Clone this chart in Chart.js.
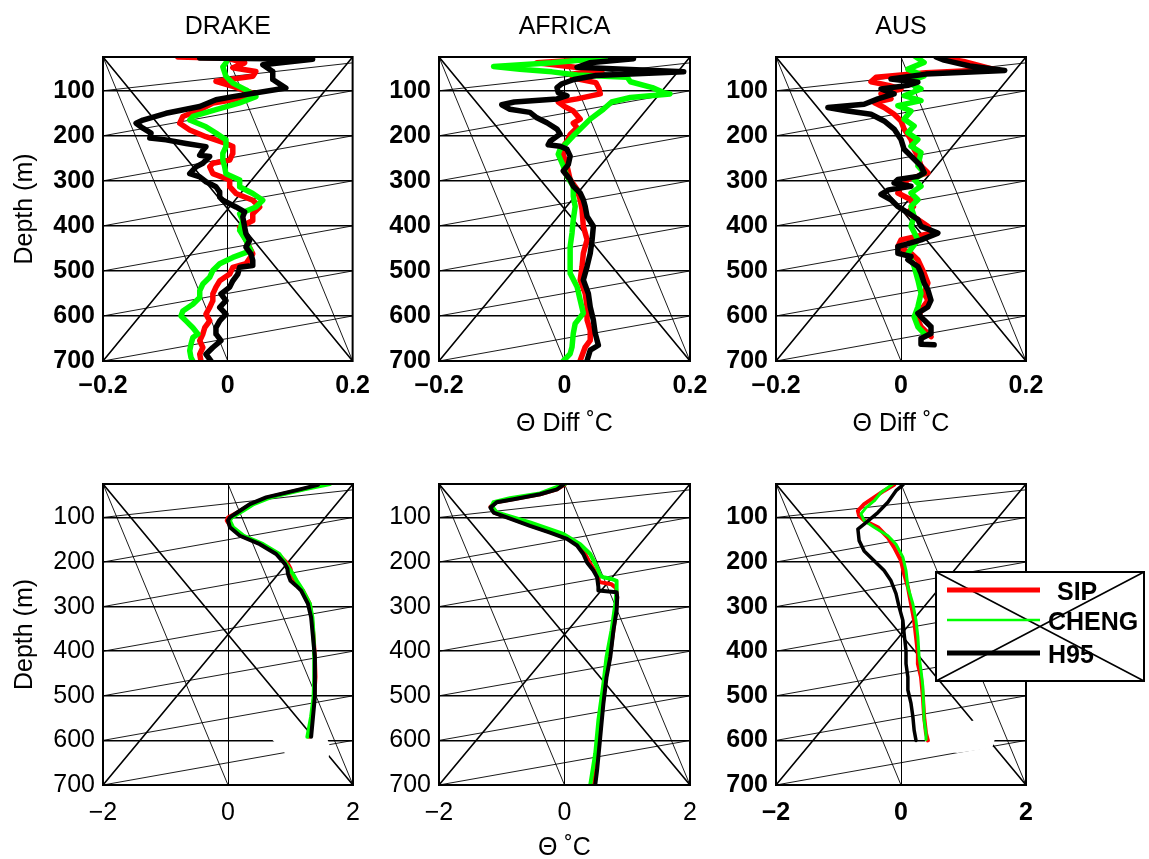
<!DOCTYPE html>
<html lang="en">
<head>
<meta charset="UTF-8">
<title>Theta profiles: DRAKE, AFRICA, AUS</title>
<script src="https://cdn.jsdelivr.net/npm/chart.js"></script>
<style>
  body { margin: 0; background: #fff; overflow: hidden; }
  #wrap { position: relative; width: 1149px; height: 859px; overflow: hidden; }
  #wrap canvas { position: absolute; }
</style>
</head>
<body>
<div id="wrap">
  <canvas id="drakeDiff"></canvas>
  <canvas id="africaDiff"></canvas>
  <canvas id="ausDiff"></canvas>
  <canvas id="drakeTheta"></canvas>
  <canvas id="africaTheta"></canvas>
  <canvas id="ausTheta"></canvas>
</div>
<script>
// ---- axes ----
const DEPTH_MIN = 25;
const DEPTH_MAX = 700;
const DEPTH_TICKS = [100, 200, 300, 400, 500, 600, 700];
const DIFF_TICKS = [-0.2, 0, 0.2];
const DIFF_TICK_LABELS = ['\u22120.2', '0', '0.2'];
const THETA_TICKS = [-2, 0, 2];
const THETA_TICK_LABELS = ['\u22122', '0', '2'];
const SERIES_NAMES = ['SIP', 'CHENG', 'H95'];
const SERIES_COLORS = ['#ff0000', '#00ff00', '#000000'];

// ---- profiles, [depth m, value] ----
// theta differences
const DRAKE_DIFF_SIP = [[25,-0.080],[28,0.000],[38,0.027],[49,0.008],[57,0.045],[68,0.040],[79,-0.019],[90,0.008],[105,0.040],[120,0.008],[127,-0.024],[142,-0.045],[157,-0.072],[172,-0.077],[187,-0.061],[202,-0.035],[217,-0.003],[224,0.008],[239,0.008],[254,0.003],[261,-0.024],[269,-0.029],[284,-0.024],[298,0.003],[313,0.003],[328,0.013],[343,0.040],[358,0.051],[373,0.040],[388,0.040],[403,0.019],[417,0.024],[440,0.032],[462,0.040],[484,0.029],[492,0.008],[507,0.003],[522,-0.013],[536,-0.019],[551,-0.024],[566,-0.024],[581,-0.029],[596,-0.035],[611,-0.029],[626,-0.037],[640,-0.040],[655,-0.045],[670,-0.040],[685,-0.045],[700,-0.043]];
const DRAKE_DIFF_CHENG = [[24,0.109],[27,0.000],[38,-0.003],[47,-0.008],[68,-0.003],[83,0.008],[98,0.029],[113,0.045],[127,0.019],[142,-0.019],[157,-0.056],[165,-0.061],[180,-0.035],[194,-0.019],[209,-0.003],[224,-0.003],[239,-0.008],[254,-0.008],[269,-0.005],[284,-0.003],[298,0.019],[313,0.019],[328,0.040],[343,0.056],[358,0.045],[373,0.019],[388,0.024],[410,0.019],[432,0.029],[455,0.037],[470,0.008],[484,-0.013],[499,-0.024],[514,-0.029],[529,-0.040],[544,-0.045],[559,-0.045],[574,-0.056],[589,-0.072],[600,-0.075],[611,-0.067],[626,-0.056],[640,-0.048],[648,-0.056],[663,-0.059],[677,-0.061],[692,-0.059],[700,-0.056]];
const DRAKE_DIFF_H95 = [[27,-0.045],[30,0.136],[42,0.056],[57,0.072],[75,0.072],[94,0.093],[113,0.008],[120,-0.019],[135,-0.045],[150,-0.099],[165,-0.136],[172,-0.147],[183,-0.136],[194,-0.123],[205,-0.125],[209,-0.099],[217,-0.067],[224,-0.035],[232,-0.040],[243,-0.045],[246,-0.029],[261,-0.040],[269,-0.051],[284,-0.061],[291,-0.045],[302,-0.035],[313,-0.019],[325,-0.013],[336,-0.013],[343,-0.008],[358,0.013],[369,0.027],[380,0.024],[403,0.027],[417,0.029],[432,0.035],[447,0.029],[462,0.037],[477,0.040],[488,0.040],[492,0.019],[507,0.016],[522,0.008],[536,0.003],[551,-0.011],[566,-0.003],[581,-0.013],[596,-0.003],[611,-0.013],[626,-0.019],[640,-0.019],[655,-0.011],[670,-0.024],[685,-0.035],[700,-0.027]];

const AFRICA_DIFF_SIP = [[25,0.073],[30,0.040],[38,-0.044],[45,0.000],[55,0.060],[63,0.010],[72,0.014],[82,0.050],[95,0.055],[107,0.057],[118,0.020],[125,-0.010],[135,0.000],[145,0.014],[163,0.025],[172,0.014],[182,0.020],[197,0.009],[212,0.004],[223,-0.002],[241,-0.002],[267,0.004],[297,0.009],[319,0.020],[342,0.025],[364,0.028],[401,0.030],[431,0.036],[461,0.030],[490,0.028],[520,0.025],[550,0.033],[580,0.036],[609,0.036],[632,0.041],[654,0.041],[669,0.033],[699,0.025]];
const AFRICA_DIFF_CHENG = [[24,0.067],[30,0.040],[38,-0.020],[46,-0.113],[52,-0.071],[58,-0.020],[65,0.020],[70,0.100],[80,0.105],[93,0.140],[104,0.158],[107,0.168],[115,0.105],[125,0.075],[141,0.062],[163,0.041],[185,0.025],[200,0.014],[215,0.004],[230,-0.007],[241,-0.010],[267,-0.002],[290,0.004],[312,0.014],[334,0.014],[357,0.017],[386,0.014],[416,0.012],[446,0.009],[475,0.009],[505,0.009],[535,0.020],[565,0.025],[594,0.030],[617,0.017],[639,0.014],[669,0.012],[684,0.009],[700,-0.002]];
const AFRICA_DIFF_H95 = [[25,0.073],[29,0.110],[38,0.040],[48,0.020],[58,0.190],[66,0.050],[75,0.015],[85,-0.005],[93,-0.012],[104,-0.010],[111,0.004],[118,-0.012],[125,-0.080],[131,-0.100],[141,-0.087],[148,-0.055],[160,-0.044],[171,-0.028],[185,-0.012],[196,-0.007],[212,-0.023],[220,-0.026],[223,-0.007],[230,0.004],[245,0.009],[264,0.006],[278,-0.002],[297,0.009],[312,0.014],[327,0.025],[342,0.030],[357,0.033],[379,0.036],[401,0.046],[431,0.044],[461,0.041],[490,0.036],[520,0.030],[550,0.038],[580,0.041],[609,0.046],[639,0.049],[665,0.054],[676,0.041],[699,0.036]];

const AUS_DIFF_SIP = [[25,0.059],[35,0.100],[53,0.150],[60,0.040],[70,-0.040],[80,-0.048],[88,-0.020],[96,0.000],[107,-0.032],[118,-0.016],[126,-0.043],[137,-0.027],[152,-0.011],[167,0.000],[185,0.005],[208,0.016],[230,0.021],[245,0.027],[267,0.032],[282,0.043],[297,0.011],[312,0.000],[327,-0.005],[342,0.016],[357,0.020],[371,0.011],[386,0.027],[401,0.043],[416,0.048],[431,0.000],[446,-0.005],[461,0.016],[475,0.027],[490,0.032],[505,0.037],[527,0.043],[550,0.037],[565,0.043],[587,0.032],[609,0.027],[624,0.032],[639,0.043],[646,0.048]];
const AUS_DIFF_CHENG = [[22,0.021],[37,0.037],[52,0.011],[67,0.037],[81,0.011],[96,0.032],[111,0.005],[122,0.032],[133,-0.005],[145,0.016],[163,0.005],[178,0.021],[193,0.011],[208,0.027],[223,0.016],[237,0.032],[267,0.027],[282,0.037],[297,0.021],[312,0.032],[327,0.016],[342,0.027],[357,0.016],[379,0.021],[401,0.016],[431,0.027],[461,0.011],[490,0.021],[520,0.027],[550,0.032],[580,0.027],[602,0.021],[624,0.027],[639,0.037]];
const AUS_DIFF_H95 = [[25,0.056],[32,0.069],[45,0.110],[55,0.166],[63,0.040],[74,-0.016],[81,0.027],[88,0.011],[96,-0.032],[107,-0.011],[118,-0.037],[130,-0.059],[137,-0.117],[145,-0.085],[152,-0.048],[167,-0.027],[185,-0.011],[208,0.000],[230,0.005],[245,0.016],[267,0.032],[282,0.037],[290,0.027],[297,-0.005],[305,-0.011],[312,0.016],[320,-0.020],[330,-0.032],[342,-0.016],[357,-0.005],[371,0.011],[386,0.027],[401,0.032],[416,0.059],[431,0.032],[446,-0.005],[461,-0.005],[468,0.016],[475,0.011],[490,0.027],[505,0.032],[527,0.037],[542,0.043],[565,0.048],[580,0.043],[594,0.027],[609,0.037],[624,0.048],[639,0.048],[650,0.032],[663,0.032],[664,0.053]];

// potential temperature
const DRAKE_THETA_SIP = [[27,1.49],[37,1.18],[55,0.64],[70,0.37],[85,0.20],[100,0.00],[107,-0.02],[122,0.05],[141,0.21],[160,0.53],[182,0.80],[204,0.96],[215,1.00],[227,1.02],[242,1.07],[253,1.13],[264,1.20],[294,1.31],[324,1.34],[368,1.37],[413,1.39],[458,1.40],[502,1.38],[547,1.34],[592,1.30]];
const DRAKE_THETA_CHENG = [[25,1.63],[37,1.22],[55,0.68],[70,0.41],[85,0.24],[100,0.06],[107,0.03],[122,0.08],[141,0.25],[160,0.56],[182,0.82],[204,0.93],[215,0.98],[227,1.04],[242,1.10],[253,1.15],[264,1.20],[294,1.31],[324,1.35],[368,1.37],[413,1.38],[458,1.38],[502,1.37],[547,1.33],[592,1.27]];
const DRAKE_THETA_H95 = [[27,1.44],[37,1.15],[55,0.61],[70,0.35],[85,0.19],[100,0.03],[107,0.00],[122,0.03],[141,0.19],[160,0.51],[182,0.77],[204,0.91],[215,0.95],[227,0.96],[242,1.00],[253,1.09],[264,1.17],[294,1.28],[324,1.33],[368,1.36],[413,1.39],[458,1.39],[502,1.39],[547,1.36],[592,1.33]];

const AFRICA_THETA_SIP = [[27,0.00],[37,-0.12],[48,-0.39],[59,-0.83],[66,-1.10],[76,-1.18],[89,-1.12],[100,-0.90],[119,-0.52],[134,-0.20],[148,0.07],[163,0.23],[182,0.33],[201,0.40],[219,0.48],[234,0.53],[245,0.56],[250,0.75],[258,0.82],[268,0.83],[279,0.84],[309,0.82],[353,0.78],[413,0.72],[458,0.66],[517,0.61],[592,0.55],[666,0.50],[700,0.47]];
const AFRICA_THETA_CHENG = [[25,0.01],[46,-0.39],[57,-0.87],[66,-1.13],[74,-1.16],[89,-1.08],[111,-0.55],[137,-0.02],[160,0.25],[182,0.41],[212,0.52],[230,0.57],[234,0.62],[238,0.75],[242,0.83],[264,0.83],[294,0.81],[353,0.75],[413,0.67],[473,0.62],[555,0.54],[629,0.49],[700,0.41]];
const AFRICA_THETA_H95 = [[27,-0.02],[37,-0.12],[48,-0.39],[59,-0.81],[66,-1.08],[78,-1.18],[89,-1.13],[100,-0.92],[119,-0.55],[134,-0.23],[148,0.04],[163,0.20],[182,0.30],[201,0.36],[219,0.46],[234,0.52],[256,0.54],[264,0.54],[268,0.83],[279,0.84],[309,0.83],[353,0.78],[413,0.73],[458,0.67],[517,0.62],[592,0.57],[666,0.52],[700,0.49]];

const AUS_THETA_SIP = [[27,-0.11],[40,-0.27],[55,-0.43],[70,-0.59],[85,-0.69],[96,-0.67],[107,-0.59],[122,-0.37],[145,-0.21],[167,-0.11],[197,0.00],[227,0.05],[256,0.11],[294,0.16],[331,0.21],[368,0.24],[406,0.27],[428,0.27],[458,0.32],[502,0.35],[547,0.37],[584,0.40],[600,0.43]];
const AUS_THETA_CHENG = [[25,-0.13],[44,-0.32],[63,-0.43],[78,-0.56],[92,-0.64],[107,-0.59],[122,-0.43],[141,-0.21],[160,-0.08],[189,0.03],[219,0.08],[256,0.11],[294,0.19],[331,0.24],[368,0.27],[413,0.29],[443,0.32],[480,0.35],[517,0.36],[554,0.37],[584,0.40],[598,0.40]];
const AUS_THETA_H95 = [[27,0.03],[40,-0.08],[66,-0.21],[89,-0.37],[115,-0.59],[126,-0.69],[152,-0.67],[175,-0.59],[197,-0.43],[219,-0.27],[242,-0.16],[271,-0.08],[301,-0.03],[331,0.03],[361,0.05],[398,0.08],[428,0.08],[458,0.11],[487,0.11],[517,0.16],[547,0.19],[577,0.21],[600,0.24]];

// blank-out areas on the theta panels, [value, depth]
const DRAKE_PATCH = [[0.67,593],[1.23,580],[1.58,593],[1.64,617],[1.61,637],[1.15,644],[0.94,633]];
const AUS_PATCH = [[0.39,593],[1.17,555],[1.51,593],[1.46,617],[0.90,628],[0.39,611]];

// slanted guide lines: depth at left edge -> depth at right edge
const SLANT_LINES = [[100,38],[200,100],[300,200],[400,300],[500,400],[600,500],[700,600]];

const FONT = '"Liberation Sans", Arial, Helvetica, sans-serif';

// draws the frame, the crossing guide lines, blank patches and the legend
const framePlugin = {
  id: 'frameLines',
  beforeDatasetsDraw(chart) {
    const cfg = chart.options.plugins.frameLines;
    const { ctx, chartArea: a } = chart;
    const ys = chart.scales.y, xs = chart.scales.x;
    const mid = (a.left + a.right) / 2;
    ctx.save();
    ctx.beginPath();
    ctx.rect(a.left, a.top, a.right - a.left, a.bottom - a.top);
    ctx.clip();
    ctx.strokeStyle = '#000';
    ctx.lineWidth = 1.6;
    ctx.beginPath();
    ctx.moveTo(a.left, a.top); ctx.lineTo(a.right, a.bottom);
    ctx.moveTo(a.left, a.bottom); ctx.lineTo(a.right, a.top);
    ctx.stroke();
    ctx.lineWidth = 0.9;
    ctx.beginPath();
    ctx.moveTo(a.left, a.top); ctx.lineTo(mid, a.bottom);
    ctx.moveTo(mid, a.top); ctx.lineTo(a.right, a.bottom);
    SLANT_LINES.forEach(([d0, d1]) => {
      ctx.moveTo(a.left, ys.getPixelForValue(d0));
      ctx.lineTo(a.right, ys.getPixelForValue(d1));
    });
    ctx.stroke();
    if (cfg.patch) {
      ctx.fillStyle = '#fff';
      ctx.beginPath();
      cfg.patch.forEach(([v, d], i) => {
        const px = xs.getPixelForValue(v), py = ys.getPixelForValue(d);
        if (i === 0) ctx.moveTo(px, py); else ctx.lineTo(px, py);
      });
      ctx.closePath();
      ctx.fill();
    }
    ctx.restore();
  },
  afterDraw(chart) {
    const cfg = chart.options.plugins.frameLines;
    const { ctx, chartArea: a } = chart;
    ctx.save();
    ctx.strokeStyle = '#000';
    ctx.lineWidth = 2;
    ctx.strokeRect(a.left, a.top, a.right - a.left, a.bottom - a.top);
    if (cfg.legend) {
      const [lx, ly, lw, lh] = cfg.legend;
      ctx.fillStyle = '#fff';
      ctx.fillRect(lx, ly, lw, lh);
      ctx.lineWidth = 1.6;
      ctx.beginPath();
      ctx.moveTo(lx, ly); ctx.lineTo(lx + lw, ly + lh);
      ctx.moveTo(lx, ly + lh); ctx.lineTo(lx + lw, ly);
      ctx.stroke();
      ctx.lineWidth = 2;
      ctx.strokeRect(lx, ly, lw, lh);
      const rows = [[18, 5, 121], [48, 2.5, 112], [81, 5, 112]];
      ctx.font = 'bold 25px ' + FONT;
      ctx.textBaseline = 'middle';
      rows.forEach(([dy, w, tx], i) => {
        ctx.strokeStyle = SERIES_COLORS[i];
        ctx.lineWidth = w;
        ctx.beginPath();
        ctx.moveTo(lx + 11, ly + dy); ctx.lineTo(lx + 104, ly + dy);
        ctx.stroke();
        ctx.fillStyle = '#000';
        ctx.fillText(SERIES_NAMES[i], lx + tx, ly + dy + 3);
      });
    }
    ctx.restore();
  }
};

const PANELS = [
  { id: 'drakeDiff', canvas: [0, 0, 380, 450], box: [103, 57, 353, 361], title: 'DRAKE', yTitle: 'Depth (m)', bold: true,
    ticks: DIFF_TICKS, labels: DIFF_TICK_LABELS, series: [DRAKE_DIFF_SIP, DRAKE_DIFF_CHENG, DRAKE_DIFF_H95], widths: [5.5, 5.5, 5.5] },
  { id: 'africaDiff', canvas: [370, 0, 350, 450], box: [439, 57, 690, 361], title: 'AFRICA', xTitle: '\u0398 Diff \u02DAC', bold: true,
    ticks: DIFF_TICKS, labels: DIFF_TICK_LABELS, series: [AFRICA_DIFF_SIP, AFRICA_DIFF_CHENG, AFRICA_DIFF_H95], widths: [5.5, 5.5, 5.5] },
  { id: 'ausDiff', canvas: [705, 0, 444, 450], box: [776, 57, 1026, 361], title: 'AUS', xTitle: '\u0398 Diff \u02DAC', bold: true,
    ticks: DIFF_TICKS, labels: DIFF_TICK_LABELS, series: [AUS_DIFF_SIP, AUS_DIFF_CHENG, AUS_DIFF_H95], widths: [5.5, 5.5, 5.5] },
  { id: 'drakeTheta', canvas: [0, 440, 380, 430], box: [103, 484, 353, 785], yTitle: 'Depth (m)', bold: false, patch: DRAKE_PATCH,
    ticks: THETA_TICKS, labels: THETA_TICK_LABELS, series: [DRAKE_THETA_SIP, DRAKE_THETA_CHENG, DRAKE_THETA_H95], widths: [4, 4, 4] },
  { id: 'africaTheta', canvas: [370, 440, 350, 430], box: [439, 484, 690, 785], xTitle: '\u0398 \u02DAC', bold: false,
    ticks: THETA_TICKS, labels: THETA_TICK_LABELS, series: [AFRICA_THETA_SIP, AFRICA_THETA_CHENG, AFRICA_THETA_H95], widths: [4, 4, 4] },
  { id: 'ausTheta', canvas: [705, 440, 444, 430], box: [776, 484, 1026, 785], bold: true, patch: AUS_PATCH, legend: [936, 572, 208, 109],
    ticks: THETA_TICKS, labels: THETA_TICK_LABELS, series: [AUS_THETA_SIP, AUS_THETA_CHENG, AUS_THETA_H95], widths: [4, 3, 3.5] },
];

PANELS.forEach(p => {
  const [cx, cy, cw, ch] = p.canvas;
  const [l, t, r, b] = p.box;
  const el = document.getElementById(p.id);
  el.width = cw; el.height = ch;
  el.style.left = cx + 'px';
  el.style.top = cy + 'px';

  const topRow = cy < 100;
  const tickFont = { family: FONT, size: 25, weight: p.bold ? 'bold' : 'normal' };
  const textFont = { family: FONT, size: 25, weight: 'normal', lineHeight: 1.2 };

  new Chart(el, {
    type: 'line',
    data: {
      datasets: p.series.map((s, i) => ({
        label: SERIES_NAMES[i],
        data: s.map(([d, v]) => ({ x: v, y: d })),
        borderColor: SERIES_COLORS[i],
        borderWidth: p.widths[i],
        borderJoinStyle: 'round',
        borderCapStyle: 'round',
        pointRadius: 0,
        tension: 0,
        fill: false,
        order: i === 2 ? 0 : (i === 1 ? 1 : 2)
      }))
    },
    options: {
      responsive: false,
      animation: false,
      events: [],
      layout: { padding: { left: 0, top: p.title ? 0 : t - cy, right: cx + cw - r, bottom: 0 } },
      plugins: {
        legend: { display: false },
        tooltip: { enabled: false },
        title: {
          display: !!p.title, text: p.title || '', fullSize: false,
          color: '#000', font: textFont, padding: { top: 12, bottom: t - cy - 42 }
        },
        frameLines: { patch: p.patch, legend: p.legend ? [p.legend[0] - cx, p.legend[1] - cy, p.legend[2], p.legend[3]] : null }
      },
      scales: {
        x: {
          type: 'linear', min: p.ticks[0], max: p.ticks[2],
          afterBuildTicks: s => { s.ticks = p.ticks.map(v => ({ value: v })); },
          afterFit: s => { s.height = cy + ch - b; },
          ticks: {
            font: tickFont, color: '#000', padding: topRow ? 10 : 13, maxRotation: 0, autoSkip: false,
            callback: (v, i) => p.labels[i]
          },
          grid: { color: '#000', lineWidth: 1, drawTicks: false },
          border: { display: false },
          title: {
            display: !!p.xTitle, text: p.xTitle || '', color: '#000', font: textFont,
            padding: { top: 0, bottom: cy + ch - (topRow ? 424 : 848) - 15 }
          }
        },
        y: {
          type: 'linear', reverse: true, min: DEPTH_MIN, max: DEPTH_MAX,
          afterBuildTicks: s => { s.ticks = DEPTH_TICKS.map(v => ({ value: v })); },
          afterFit: s => { s.width = l - cx; },
          ticks: { font: tickFont, color: '#000', padding: 8, autoSkip: false },
          grid: { color: '#000', lineWidth: 1.6, drawTicks: false },
          border: { display: false },
          title: {
            display: !!p.yTitle, text: p.yTitle || '', color: '#000', font: textFont,
            padding: { top: 10, bottom: 0 }
          }
        }
      }
    },
    plugins: [framePlugin]
  });
});
</script>
</body>
</html>
